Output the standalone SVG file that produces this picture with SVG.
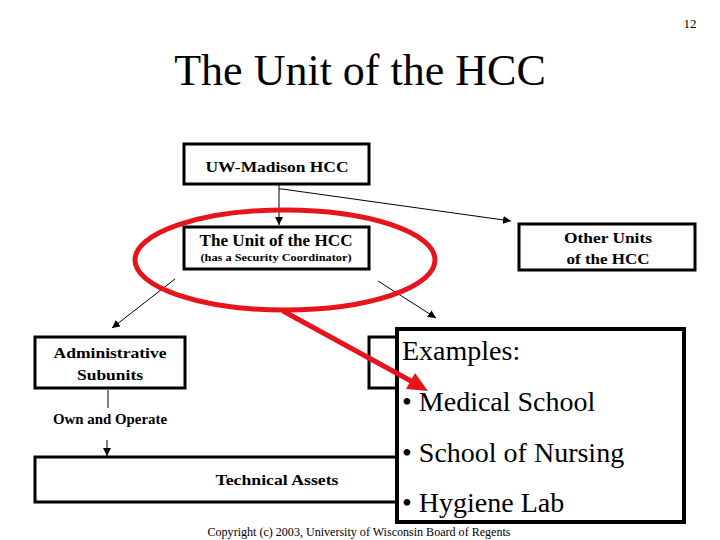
<svg xmlns="http://www.w3.org/2000/svg" width="720" height="540" viewBox="0 0 720 540">
<style>
text{font-family:"Liberation Serif","Times New Roman",serif;fill:#000}
.box{fill:#fff;stroke:#000;stroke-width:3}
.lbl{font-weight:bold;font-size:15px;text-anchor:middle}
.con{stroke:#000;stroke-width:1;fill:none}
.ex{font-size:28px}
</style>
<defs>
<marker id="ah" viewBox="0 0 10 10" refX="10" refY="5" markerWidth="8" markerHeight="8" markerUnits="userSpaceOnUse" orient="auto">
<path d="M0,0 L10,5 L0,10 z" fill="#000"/>
</marker>
</defs>
<rect width="720" height="540" fill="#fff"/>
<text x="690" y="28" font-size="13" text-anchor="middle">12</text>
<text x="360" y="85" font-size="44" text-anchor="middle">The Unit of the HCC</text>

<g id="connectors">
<line class="con" x1="279" y1="185" x2="279" y2="225" marker-end="url(#ah)"/>
<polyline class="con" points="279,189 282,189 511,221" marker-end="url(#ah)"/>
<line class="con" x1="175" y1="279" x2="112" y2="328" marker-end="url(#ah)"/>
<line class="con" x1="378" y1="281" x2="436" y2="318" marker-end="url(#ah)"/>
<line class="con" x1="108" y1="390" x2="108" y2="408"/>
<line class="con" x1="107" y1="440" x2="107" y2="456" marker-end="url(#ah)"/>
</g>

<g id="uw-madison">
<rect class="box" x="184" y="144" width="185" height="40"/>
<text class="lbl" x="277" y="172" font-size="16" textLength="143" lengthAdjust="spacingAndGlyphs">UW-Madison HCC</text>
</g>
<g id="unit">
<rect class="box" x="184" y="227" width="185" height="42"/>
<text x="276" y="246" font-size="17" font-weight="bold" text-anchor="middle" textLength="153" lengthAdjust="spacingAndGlyphs">The Unit of the HCC</text>
<text x="276" y="261" font-size="11" font-weight="bold" text-anchor="middle" textLength="151" lengthAdjust="spacingAndGlyphs">(has a Security Coordinator)</text>
</g>
<g id="other-units">
<rect class="box" x="519" y="224" width="176" height="46"/>
<text class="lbl" x="608" y="243" textLength="88" lengthAdjust="spacingAndGlyphs">Other Units</text>
<text class="lbl" x="608" y="264" textLength="83" lengthAdjust="spacingAndGlyphs">of the HCC</text>
</g>
<g id="admin">
<rect class="box" x="35" y="337" width="150" height="51"/>
<text class="lbl" x="110" y="358" textLength="113" lengthAdjust="spacingAndGlyphs">Administrative</text>
<text class="lbl" x="110" y="380" textLength="66" lengthAdjust="spacingAndGlyphs">Subunits</text>
</g>
<text x="110" y="424" font-size="14" font-weight="bold" text-anchor="middle" textLength="114" lengthAdjust="spacingAndGlyphs">Own and Operate</text>
<g id="hidden-box">
<rect class="box" x="369" y="337" width="60" height="51"/>
</g>
<g id="technical-assets">
<rect class="box" x="35" y="457" width="400" height="45"/>
<text class="lbl" x="277" y="485" textLength="123" lengthAdjust="spacingAndGlyphs">Technical Assets</text>
</g>

<g id="examples">
<rect x="397" y="329" width="287" height="193" fill="#fff" stroke="#000" stroke-width="4"/>
<text class="ex" x="402" y="360">Examples:</text>
<text class="ex" x="402" y="411">• Medical School</text>
<text class="ex" x="402" y="462">• School of Nursing</text>
<text class="ex" x="402" y="512">• Hygiene Lab</text>
</g>

<g id="highlight">
<ellipse cx="285" cy="260" rx="150" ry="50" fill="none" stroke="#e8141c" stroke-width="5"/>
<line x1="283" y1="311" x2="411" y2="381" stroke="#e8141c" stroke-width="5"/>
<polygon points="428,391 406,389 415,373" fill="#e8141c"/>
</g>

<text x="359" y="536" font-size="12" text-anchor="middle" textLength="303" lengthAdjust="spacingAndGlyphs">Copyright (c) 2003, University of Wisconsin Board of Regents</text>
</svg>
